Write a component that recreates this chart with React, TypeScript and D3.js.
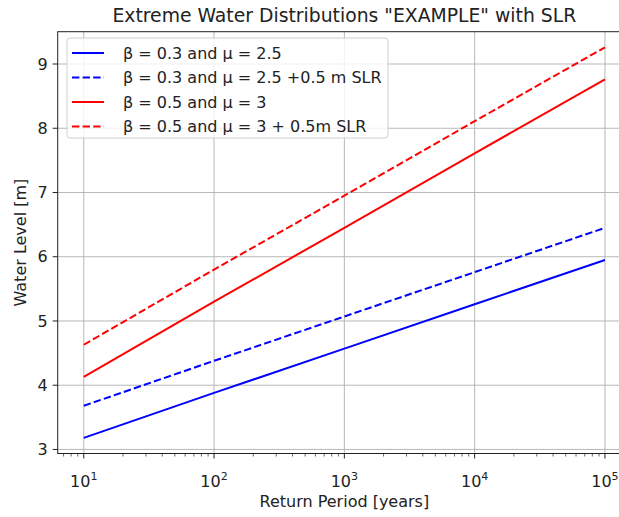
import React from "react";
import * as d3 from "d3";

// return periods (years) and water levels
const returnPeriods = [10, 100, 1000, 10000, 100000];
const levelsLow = [3.18, 3.88, 4.57, 5.26, 5.95];
const levelsLowSlr = [3.68, 4.38, 5.07, 5.76, 6.45];
const levelsHigh = [4.13, 5.3, 6.45, 7.61, 8.76];
const levelsHighSlr = [4.63, 5.8, 6.95, 8.11, 9.26];

const seriesLabels = [
  "β = 0.3 and μ = 2.5",
  "β = 0.3 and μ = 2.5 +0.5 m SLR",
  "β = 0.5 and μ = 3",
  "β = 0.5 and μ = 3 + 0.5m SLR",
];
const seriesColors = ["#0000ff", "#0000ff", "#ff0000", "#ff0000"];
const seriesDashed = [false, true, false, true];
const seriesValues = [levelsLow, levelsLowSlr, levelsHigh, levelsHighSlr];

const xTickExponents = [1, 2, 3, 4, 5];
const yTicks = [3, 4, 5, 6, 7, 8, 9];

const font = "DejaVu Sans, sans-serif";

export default function App() {
  const width = 619;
  const height = 517;
  // the axes run past the right edge of the picture, as in the original crop
  const left = 57.7;
  const right = 631;
  const top = 31.7;
  const bottom = 453.5;

  const x = d3
    .scaleLog()
    .domain([Math.pow(10, 0.8), Math.pow(10, 5.2)])
    .range([left, right]);
  const y = d3.scaleLinear().domain([2.937, 9.503]).range([bottom, top]);

  const line = d3
    .line<number>()
    .x((_, i) => x(returnPeriods[i]))
    .y((d) => y(d));

  // minor ticks 2..9 in each decade that fits in the domain
  const minorTicks: number[] = [];
  for (let e = 0; e <= 5; e++) {
    for (let m = 2; m <= 9; m++) {
      const v = m * Math.pow(10, e);
      if (x(v) >= left && x(v) <= right) minorTicks.push(v);
    }
  }

  return (
    <svg
      width={width}
      height={height}
      style={{ position: "absolute", left: 0, top: 0, background: "#fff" }}
      fontFamily={font}
    >
      <rect width={width} height={height} fill="#fff" />
      <text
        x={(left + right) / 2}
        y={22}
        textAnchor="middle"
        fontSize={18.8}
        fill="#222"
      >
        Extreme Water Distributions "EXAMPLE" with SLR
      </text>

      {/* grid */}
      <g stroke="#b0b0b0" strokeWidth={0.9}>
        {xTickExponents.map((e) => (
          <line
            key={`gx-${e}`}
            x1={x(Math.pow(10, e))}
            x2={x(Math.pow(10, e))}
            y1={top}
            y2={bottom}
          />
        ))}
        {yTicks.map((t) => (
          <line key={`gy-${t}`} x1={left} x2={right} y1={y(t)} y2={y(t)} />
        ))}
      </g>

      {/* series */}
      {seriesValues.map((vals, i) => (
        <path
          key={`s-${i}`}
          d={line(vals) ?? ""}
          fill="none"
          stroke={seriesColors[i]}
          strokeWidth={2}
          strokeDasharray={seriesDashed[i] ? "7.4,3.2" : undefined}
        />
      ))}

      {/* frame */}
      <rect
        x={left}
        y={top}
        width={right - left}
        height={bottom - top}
        fill="none"
        stroke="#222"
        strokeWidth={1}
      />

      {/* ticks */}
      <g stroke="#222">
        {xTickExponents.map((e) => (
          <line
            key={`tx-${e}`}
            x1={x(Math.pow(10, e))}
            x2={x(Math.pow(10, e))}
            y1={bottom}
            y2={bottom + 5}
            strokeWidth={1}
          />
        ))}
        {minorTicks.map((v) => (
          <line
            key={`mx-${v}`}
            x1={x(v)}
            x2={x(v)}
            y1={bottom}
            y2={bottom + 3}
            strokeWidth={0.7}
          />
        ))}
        {yTicks.map((t) => (
          <line
            key={`ty-${t}`}
            x1={left - 5}
            x2={left}
            y1={y(t)}
            y2={y(t)}
            strokeWidth={1}
          />
        ))}
      </g>

      {xTickExponents.map((e) => (
        <text
          key={`lx-${e}`}
          x={x(Math.pow(10, e))}
          y={487}
          textAnchor="middle"
          fontSize={16}
          fill="#222"
        >
          10
          <tspan dy={-7} fontSize={11}>
            {e}
          </tspan>
        </text>
      ))}
      {yTicks.map((t) => (
        <text
          key={`ly-${t}`}
          x={left - 10}
          y={y(t)}
          dy="0.36em"
          textAnchor="end"
          fontSize={16}
          fill="#222"
        >
          {t}
        </text>
      ))}

      <text
        x={(left + right) / 2}
        y={507}
        textAnchor="middle"
        fontSize={16}
        fill="#222"
      >
        Return Period [years]
      </text>
      <text
        transform={`translate(26,${(top + bottom) / 2}) rotate(-90)`}
        textAnchor="middle"
        fontSize={16}
        fill="#222"
      >
        Water Level [m]
      </text>

      {/* legend */}
      <rect
        x={67}
        y={38}
        width={321}
        height={100}
        rx={3}
        fill="#fff"
        fillOpacity={0.8}
        stroke="#d0d0d0"
      />
      {seriesLabels.map((label, i) => {
        const ly = 53 + i * 24.5;
        return (
          <g key={`lg-${i}`}>
            <line
              x1={72}
              x2={104}
              y1={ly}
              y2={ly}
              stroke={seriesColors[i]}
              strokeWidth={2}
              strokeDasharray={seriesDashed[i] ? "7.4,3.2" : undefined}
            />
            <text x={123} y={ly} dy="0.36em" fontSize={16} fill="#222">
              {label}
            </text>
          </g>
        );
      })}
    </svg>
  );
}
